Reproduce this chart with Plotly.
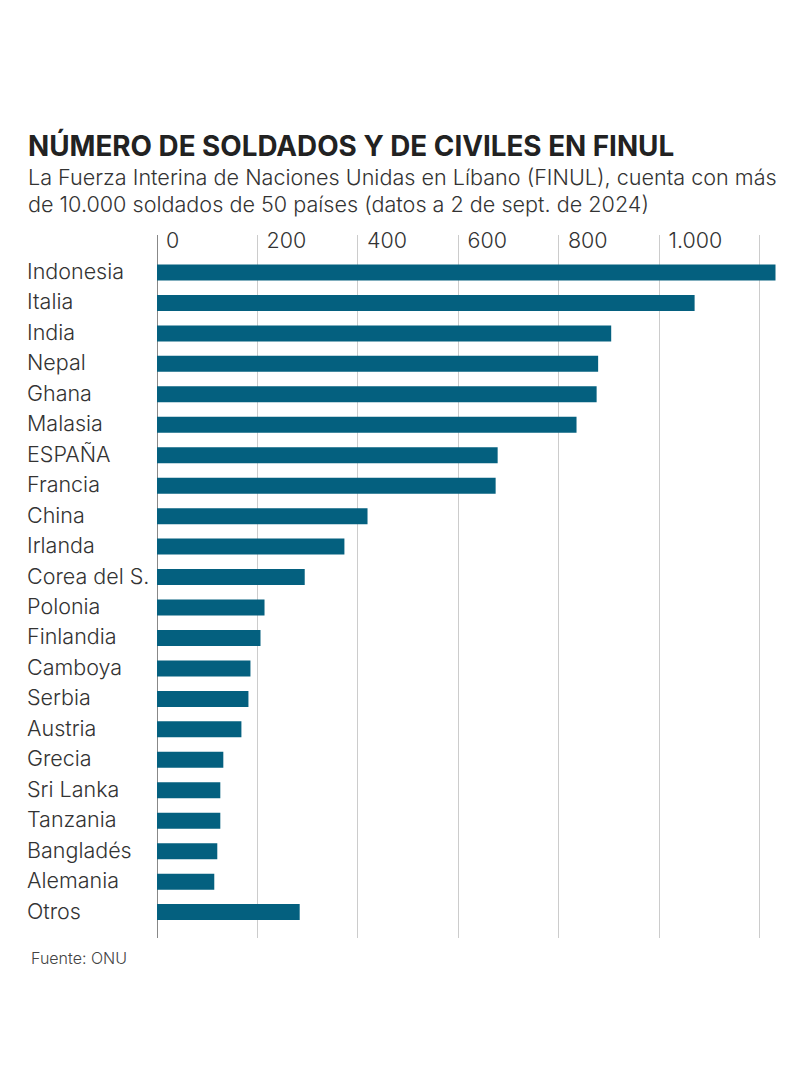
import plotly.graph_objects as go

# Number of soldiers and civilians in FINUL, by country
countries = ['Indonesia', 'Italia', 'India', 'Nepal', 'Ghana', 'Malasia', 'ESPAÑA', 'Francia',
             'China', 'Irlanda', 'Corea del S.', 'Polonia', 'Finlandia', 'Camboya', 'Serbia',
             'Austria', 'Grecia', 'Sri Lanka', 'Tanzania', 'Bangladés', 'Alemania', 'Otros']
troops = [1231, 1070, 904, 878, 875, 835, 678, 674,
          419, 373, 294, 214, 206, 186, 182,
          168, 132, 126, 126, 120, 114, 284]
tick_vals = [0, 200, 400, 600, 800, 1000, 1200]
tick_text = ['0', '200', '400', '600', '800', '1.000', '']

W, H = 800, 1084
FONT = 'Inter'
DARK = '#222222'
TEXT = '#333333'


def px_x(x):
    return x / W


def px_y(y):
    return 1 - y / H


fig = go.Figure(go.Bar(y=countries, x=troops, orientation='h',
                       marker=dict(color='#04607f', line_width=0)))

# country labels are left aligned, which the axis can't do
for c in countries:
    fig.add_annotation(text=c, x=px_x(25), xref='paper', xanchor='left', y=c, yref='y', yshift=1.5,
                       showarrow=False, font=dict(family=FONT, size=21.5, color=TEXT, weight=300))

fig.add_annotation(text='<b>NÚMERO DE SOLDADOS Y DE CIVILES EN FINUL</b>', x=px_x(25.5), y=px_y(145),
                   xref='paper', yref='paper', xanchor='left', yanchor='middle', showarrow=False,
                   font=dict(family=FONT, size=27.8, color=DARK))
fig.add_annotation(text='La Fuerza Interina de Naciones Unidas en Líbano (FINUL), cuenta con más',
                   x=px_x(25.5), y=px_y(177), xref='paper', yref='paper', xanchor='left', yanchor='middle',
                   showarrow=False, font=dict(family=FONT, size=21.6, color=TEXT, weight=300))
fig.add_annotation(text='de 10.000 soldados de 50 países (datos a 2 de sept. de 2024)',
                   x=px_x(25.5), y=px_y(204), xref='paper', yref='paper', xanchor='left', yanchor='middle',
                   showarrow=False, font=dict(family=FONT, size=21.6, color=TEXT, weight=300))
fig.add_annotation(text='Fuente: ONU', x=px_x(29), y=px_y(958), xref='paper', yref='paper',
                   xanchor='left', yanchor='middle', showarrow=False,
                   font=dict(family=FONT, size=16, color='#444444', weight=300))

fig.update_layout(
    width=W, height=H, autosize=False,
    margin=dict(l=0, r=0, t=0, b=0),
    paper_bgcolor='white', plot_bgcolor='white',
    showlegend=False, bargap=0.475,
    font=dict(family=FONT),
)
fig.update_xaxes(domain=[px_x(157), px_x(776)], range=[0, 1232], side='top',
                 tickvals=tick_vals, ticktext=tick_text, ticks='',
                 ticklabelposition='inside right', ticklabelshift=9, ticklabelstandoff=-8,
                 tickfont=dict(family=FONT, size=21.5, color=TEXT, weight=300),
                 showgrid=True, gridcolor='#cccccc', gridwidth=1,
                 zeroline=True, zerolinecolor='#888888', zerolinewidth=1, showline=False)
fig.update_yaxes(domain=[px_y(938), px_y(235)], range=[21.85, -1.23], categoryorder='array',
                 categoryarray=countries, showticklabels=False, ticks='', showgrid=False,
                 zeroline=False, showline=False)

fig.write_html('out.html', config={'displayModeBar': False},
               post_script="document.body.style.margin='0';")
